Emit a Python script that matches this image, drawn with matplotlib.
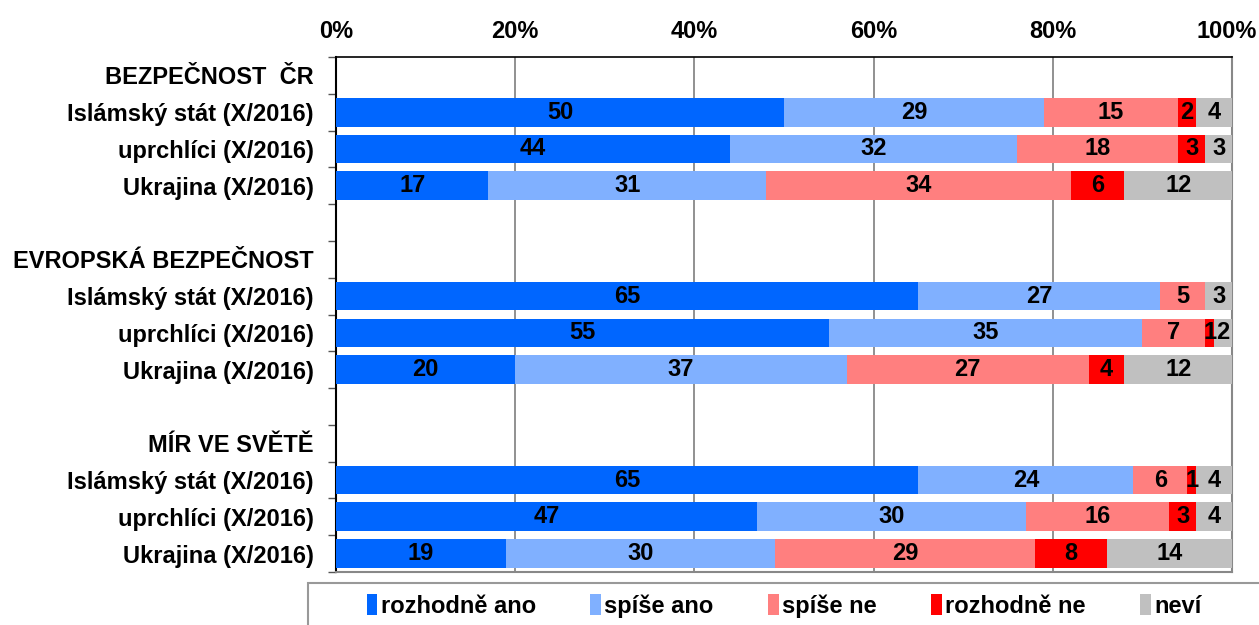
import numpy as np
import matplotlib
matplotlib.use('Agg')
from matplotlib import pyplot as plt
from matplotlib.patches import Patch, Rectangle
from matplotlib.transforms import ScaledTranslation

plt.rcParams['font.family'] = ['Liberation Sans', 'DejaVu Sans']
plt.rcParams['font.weight'] = 'bold'

headers = ['BEZPEČNOST  ČR', 'EVROPSKÁ BEZPEČNOST', 'MÍR VE SVĚTĚ']
items = ['Islámský stát (X/2016)', 'uprchlíci (X/2016)', 'Ukrajina (X/2016)']
series = ['rozhodně ano', 'spíše ano', 'spíše ne', 'rozhodně ne', 'neví']
colors = ['#0066FF', '#80B0FF', '#FF7F7F', '#FF0000', '#C0C0C0']

# values per bar, group by group (ČR, Evropa, svět)
rozhodne_ano = [50, 44, 17, 65, 55, 20, 65, 47, 19]
spise_ano = [29, 32, 31, 27, 35, 37, 24, 30, 30]
spise_ne = [15, 18, 34, 5, 7, 27, 6, 16, 29]
rozhodne_ne = [2, 3, 6, 0, 1, 4, 1, 3, 8]
nevi = [4, 3, 12, 3, 2, 12, 4, 4, 14]
values = [rozhodne_ano, spise_ano, spise_ne, rozhodne_ne, nevi]

# row layout: header, 3 bars, blank row between groups
row_labels = []
bar_rows = []
for g, h in enumerate(headers):
    row_labels.append(h)
    for it in items:
        bar_rows.append(len(row_labels))
        row_labels.append(it)
    if g < len(headers) - 1:
        row_labels.append('')
n_rows = len(row_labels)

fig = plt.figure(figsize=(12.59, 6.25), dpi=100)
ax = fig.add_axes([336 / 1259, 1 - 572 / 625, (1232 - 336) / 1259, (572 - 57) / 625])

left = np.zeros(len(bar_rows))
for name, vals, c in zip(series, values, colors):
    vals = np.array(vals, dtype=float)
    ax.barh(bar_rows, vals, left=left, height=0.78, color=c, zorder=3, label=name)
    for y, l, v in zip(bar_rows, left, vals):
        if v > 0:
            ax.text(l + v / 2, y, '%d' % v, ha='center', va='center',
                    fontsize=17, fontweight='bold', color='black', zorder=4)
    left += vals

ax.set_xlim(0, 100)
ax.set_ylim(n_rows - 0.5, -0.5)
ax.set_xticks(np.arange(0, 101, 20))
ax.set_xticklabels(['%d%%' % t for t in range(0, 101, 20)])
ax.xaxis.tick_top()
ax.tick_params(axis='x', length=0, pad=10, labelsize=17)
ax.xaxis.grid(True, color='#888888', linewidth=1.3, zorder=0)
# nudge 100% so it stays inside the figure
last = ax.get_xticklabels()[-1]
last.set_transform(last.get_transform() + ScaledTranslation(-5 / 100, 0, fig.dpi_scale_trans))

ax.set_yticks(range(n_rows))
ax.set_yticklabels(row_labels)
ax.tick_params(axis='y', length=0, pad=16, labelsize=17)
ax.set_yticks(np.arange(-0.5, n_rows, 1), minor=True)
ax.tick_params(axis='y', which='minor', length=6, width=1, color='#555555', direction='out')

ax.spines['left'].set_color('black')
ax.spines['left'].set_linewidth(1.5)
ax.spines['top'].set_color('black')
ax.spines['top'].set_linewidth(1.2)
ax.spines['right'].set_color('#888888')
ax.spines['right'].set_linewidth(1.5)
ax.spines['bottom'].set_color('#888888')
ax.spines['bottom'].set_linewidth(1.5)

# legend box at bottom
fig.patches.append(Rectangle((308 / 1259, -0.01), 0.8, (625 - 583) / 625 + 0.01,
                             transform=fig.transFigure, fill=False,
                             edgecolor='#999999', linewidth=1.5))
handles = [Patch(facecolor=c, edgecolor='none', label=s) for s, c in zip(series, colors)]
fig.legend(handles=handles, loc='center', bbox_to_anchor=(784 / 1259, 1 - 606 / 625),
           ncol=5, frameon=False, fontsize=17, handlelength=0.45, handleheight=1.0,
           handletextpad=0.15, columnspacing=2.3)

plt.savefig('out.png', dpi=100)
